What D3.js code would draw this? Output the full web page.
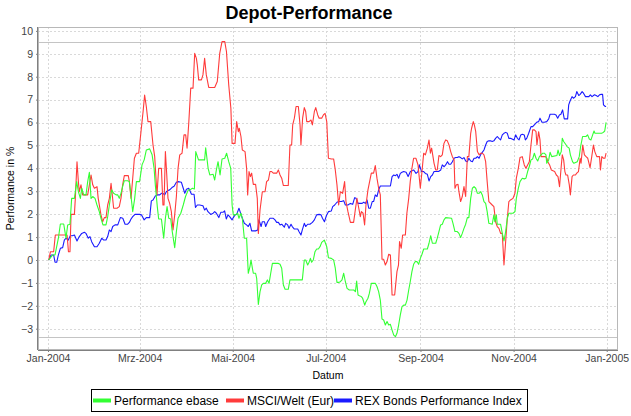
<!DOCTYPE html>
<html><head><meta charset="utf-8">
<script src="https://cdn.jsdelivr.net/npm/d3@7"></script>
<style>
html,body{margin:0;padding:0;background:#fff;}
svg{display:block;font-family:"Liberation Sans",Arial,sans-serif;}
</style></head>
<body>
<svg id="c" width="631" height="416"></svg>
<script>
// ---- DATA (day offset from 2004-01-01, performance in %) ----
const ebase = [[0.5,0],[3.1,0.22],[4.6,0.22],[6.8,0.95],[8.1,1.57],[10.3,1.57],[11.8,0.95],[12.9,1.53],[14.4,1.56],[15.5,2.69],[17.3,2.69],[18.8,3.42],[19.9,2.98],[21.2,2.69],[22.1,3.13],[23.4,2.84],[24.9,2.84],[26.0,3.42],[27.1,3.83],[28.2,2.69],[29.3,2.77],[30.8,2.69],[32.1,2.4],[33.6,2.11],[34.7,1.82],[36.0,1.53],[38.0,1.53],[39.1,1.89],[40.2,2.4],[41.7,3.06],[43.0,2.91],[44.6,2.84],[45.7,2.84],[46.7,2.69],[47.8,2.91],[48.9,3.2],[50.0,3.46],[52.2,3.46],[53.3,3.42],[54.4,2.77],[55.5,2.11],[56.8,2.69],
[57.9,3.42],[60.0,3.42],[61.6,4.15],[63.0,4.37],[64.4,4.8],[66.6,4.85],[68.2,4.59],[69.5,4.0],[70.3,3.28],[71.6,2.33],[72.5,1.79],[74.3,1.79],[75.8,0.95],[76.9,1.82],[78.0,2.33],[79.1,1.82],[80.4,1.79],[81.4,1.24],[83.0,0.54],[84.1,1.24],[85.2,1.82],[87.0,2.04],[88.6,2.4],[90.1,2.77],[91.9,3.06],[93.0,3.06],[94.6,3.13],[95.9,3.1],[96.8,4.73],[98.6,4.37],[100.8,4.37],[102.6,4.37],[103.3,4.9],[104.9,4.0],[106.0,3.71],[108.2,3.74],[109.2,3.49],[110.3,3.93],[111.4,4.29],[112.7,3.71],[114.0,4.41],[115.8,4.44],[117.0,4.66],[118.4,4.29],[119.7,4.0],[120.6,2.4],
[121.4,1.97],[122.9,1.97],[124.2,2.04],[125.1,1.82],[126.4,2.04],[127.3,1.82],[128.6,0.95],[130.1,0.95],[131.2,-0.58],[132.3,-0.29],[133.0,0],[133.9,-0.36],[134.5,-0.58],[136.0,-0.58],[136.7,-0.8],[137.8,-1.94],[138.9,-1.38],[140.0,-1.09],[141.1,-1.02],[142.6,-1.02],[143.7,-0.87],[144.8,-1.02],[145.9,-0.58],[147.0,-0.15],[148.7,-0.15],[150.9,-0.15],[152.0,-0.19],[153.1,-0.36],[154.2,-1.09],[155.3,-1.28],[157.4,-1.28],[158.5,-0.87],[166.6,-0.87],[167.9,0],[168.8,0],[170.1,-0.22],[171.0,-0.1],[171.9,0.07],[172.7,-0.1],[173.8,0],[174.9,0.36],[176.0,0.48],[177.1,0.48],[178.2,0.58],[179.3,0.77],[181.0,0.87],[182.6,0.58],[183.7,0.1],
[185.6,0.07],[187.1,0.0],[188.2,-0.36],[189.3,-0.98],[190.4,-0.98],[191.5,-0.95],[192.6,-0.87],[193.7,-0.58],[194.8,-0.95],[195.9,-1.24],[197.4,-1.31],[200.3,-1.31],[201.4,-1.38],[202.2,-0.92],[203.1,-1.53],[204.0,-1.56],[205.3,-1.6],[206.1,-1.67],[207.5,-1.97],[208.3,-1.82],[209.6,-1.67],[210.5,-1.46],[211.8,-1.02],[214.4,-1.02],[215.5,-1.16],[216.6,-1.38],[217.7,-1.75],[218.8,-2.58],[219.9,-2.62],[221.0,-2.84],[222.1,-2.69],[223.2,-2.84],[224.3,-2.81],[225.4,-3.06],[226.5,-3.28],[227.6,-3.35],[228.6,-3.2],[229.7,-2.84],[230.8,-2.4],[231.9,-2.04],[233.0,-1.97],[234.1,-1.97],[235.2,-1.75],[236.3,-1.31],[237.3,-0.95],[238.4,-0.51],[239.5,-0.19],[240.6,-0.07],[241.7,-0.07],[242.8,-0.19],[243.9,0.07],[245.0,0.25],[246.1,0.48],[247.2,0.48],
[248.5,0.48],[249.6,0.73],[250.7,1.06],[251.8,0.73],[254.0,0.73],[255.0,0.95],[256.1,1.24],[257.2,1.53],[258.3,1.56],[259.4,1.75],[260.5,1.85],[264.4,1.82],[265.3,1.6],[266.6,1.24],[268.1,1.24],[269.2,1.16],[270.3,0.98],[271.4,1.16],[272.5,1.38],[273.6,1.56],[274.7,1.85],[275.7,1.85],[276.9,2.69],[278.0,3.13],[279.1,3.2],[280.2,3.13],[281.3,2.91],[282.4,2.91],[283.5,2.98],[284.5,2.84],[285.6,2.55],[286.7,2.47],[287.7,2.11],[288.8,1.6],[291.0,1.56],[292.1,1.97],[292.7,1.67],[293.7,1.97],[294.3,1.56],[296.5,1.56],[297.6,1.16],[298.7,0.83],[299.8,1.24],[300.9,1.82],[301.9,2.04],[304.6,2.04],[305.9,2.11],[306.8,2.69],[308.1,3.13],[309.2,3.42],[310.7,3.57],
[312.0,3.54],[313.1,3.57],[314.2,3.86],[315.3,4.08],[316.4,4.37],[317.5,4.41],[318.6,4.66],[319.7,4.44],[320.8,4.32],[321.9,4.51],[324.1,4.66],[325.1,4.66],[326.2,4.59],[326.7,4.22],[328.0,4.37],[328.9,4.7],[330.0,4.51],[333.4,4.56],[334.1,4.8],[335.1,4.56],[336.2,4.73],[336.9,5.31],[337.8,5.17],[339.1,5.05],[340.0,4.95],[341.4,4.88],[342.2,4.59],[343.6,4.29],[344.5,4.22],[346.7,4.29],[348.0,4.51],[348.9,4.95],[350.2,5.39],[352.4,5.39],[353.5,5.46],[354.6,5.28],[355.7,5.24],[356.8,5.46],[357.7,5.63],[358.3,5.53],[362.7,5.53],[363.8,5.57],[364.7,5.63],[365.6,6.01]];

const msci = [[0.5,0],[1.6,0.36],[3.7,0.36],[4.8,1.09],[12.5,1.09],[13.4,0.36],[14.4,0.36],[15.1,1.99],[17.3,1.99],[17.9,2.69],[19.0,4.29],[19.9,3.42],[20.5,2.98],[21.6,3.28],[22.7,2.84],[26.0,2.84],[27.1,3.28],[28.2,3.71],[29.3,3.28],[30.4,3.13],[32.1,3.2],[32.9,2.69],[34.7,1.97],[35.8,1.67],[36.9,1.85],[38.0,1.85],[39.1,2.4],[40.2,2.69],[41.3,3.35],[41.9,2.98],[43.0,2.26],[45.2,2.26],[46.7,2.33],[47.8,2.69],[48.9,3.28],[50.0,3.68],[52.6,3.68],[53.3,3.42],[54.4,2.69],[55.5,3.57],[56.6,4.44],
[57.9,4.66],[59.4,4.66],[60.7,5.46],[62.3,6.48],[63.3,7.2],[64.4,6.7],[65.5,6.04],[67.3,6.04],[68.8,5.02],[69.9,4.51],[71.4,2.84],[72.5,4.0],[74.3,4.0],[75.3,2.4],[76.0,2.4],[76.9,4.73],[77.8,3.71],[78.6,2.69],[79.7,2.47],[80.8,2.11],[81.9,1.31],[83.0,1.97],[84.1,2.77],[85.2,4.0],[86.3,4.59],[87.8,4.66],[89.1,5.46],[90.2,5.46],[91.1,4.88],[92.2,5.97],[93.5,7.5],[95.0,7.5],[96.1,9.02],[97.2,8.8],[97.8,8.52],[98.7,7.86],[100.5,7.86],[101.5,8.08],[102.6,8.8],[103.7,8.08],[105.3,7.53],[109.2,7.53],[110.9,7.79],[112.5,9.02],[114.0,9.53],[115.8,9.53],[116.9,9.1],[118.4,7.64],[119.8,6.62],[120.6,5.09],
[122.5,5.09],[123.6,6.04],[124.7,5.6],[125.3,5.75],[126.4,5.39],[127.3,4.8],[129.1,4.73],[130.1,4.0],[130.8,2.84],[131.7,3.86],[132.6,3.64],[133.4,3.79],[134.5,3.3],[136.0,3.3],[137.1,2.69],[137.8,1.16],[138.9,2.18],[140.4,2.98],[142.2,2.98],[143.2,3.42],[144.4,3.49],[145.4,3.86],[146.5,3.86],[147.6,3.79],[149.8,3.79],[150.9,3.93],[152.0,3.71],[153.1,3.57],[154.2,3.25],[157.4,3.25],[158.5,5.02],[159.6,5.02],[160.3,5.9],[161.4,6.19],[162.5,6.7],[164.0,6.7],[165.1,5.9],[165.7,5.02],[166.8,6.19],[167.9,6.65],[168.8,6.48],[169.5,6.04],[171.0,6.04],[172.3,6.11],[173.2,5.9],[174.5,6.48],[175.4,6.65],[176.7,6.33],[177.6,6.19],[179.3,6.19],[180.4,6.33],[181.5,6.4],[182.6,6.04],[183.7,4.44],
[185.6,4.41],[187.1,4.41],[188.2,3.93],[189.3,3.28],[190.4,2.4],[191.5,2.98],[193.0,2.91],[194.3,3.42],[195.2,2.55],[196.5,2.11],[198.1,1.64],[200.2,1.64],[201.3,2.18],[202.4,2.69],[203.5,2.29],[204.6,1.89],[205.3,2.11],[206.4,2.04],[207.4,1.53],[208.3,2.4],[209.6,3.06],[211.8,3.79],[213.3,3.79],[214.4,4.12],[215.5,3.57],[216.6,3.13],[217.7,2.84],[218.8,0.03],[219.9,0.03],[221.0,-0.22],[222.1,-0.07],[223.2,0.25],[224.3,0.22],[225.4,-1.53],[227.1,-1.53],[228.6,-0.51],[229.6,-0.22],[230.3,0.8],[231.4,0.51],[232.3,1.09],[234.1,1.09],[235.1,2.04],[236.3,2.69],[237.3,3.42],[238.4,4.0],[239.5,4.44],[241.0,4.44],[242.4,4.15],[243.9,3.13],[245.0,3.86],[246.1,4.66],[247.2,4.59],
[248.5,4.88],[249.6,5.24],[250.5,4.66],[251.3,4.88],[252.2,4.51],[252.9,4.22],[254.0,3.93],[255.0,3.93],[256.1,4.56],[257.2,4.51],[258.3,4.59],[259.4,5.09],[260.5,5.24],[261.6,5.2],[262.7,5.02],[263.8,4.73],[264.9,4.51],[266.0,4.37],[266.6,3.13],[267.5,3.28],[268.6,3.3],[269.2,2.98],[270.3,2.55],[271.4,2.77],[272.5,3.2],[273.6,2.77],[274.7,4.51],[275.7,4.51],[276.9,5.53],[277.5,5.75],[278.6,6.04],[279.3,5.9],[280.2,5.6],[281.3,4.73],[282.4,4.59],[283.5,4.66],[284.5,4.66],[285.6,4.59],[286.7,4.29],[287.7,3.42],[288.8,2.55],[291.0,2.4],[292.1,2.33],[293.2,1.67],[294.3,1.46],[295.4,1.38],[296.5,1.16],[297.6,1.16],[298.7,-0.22],[299.8,0.8],[300.9,1.82],[301.9,2.55],[303.0,2.62],[304.6,2.69],[305.9,2.91],[306.8,3.57],[308.1,4.0],[309.2,4.47],[310.7,4.51],
[312.0,4.15],[313.1,4.0],[314.2,4.15],[315.3,4.29],[316.4,5.02],[317.5,5.68],[318.6,5.68],[319.7,5.6],[320.3,5.02],[321.4,5.6],[322.3,5.24],[323.0,4.51],[325.9,4.51],[326.8,4.44],[327.4,4.29],[328.6,4.15],[329.7,3.93],[331.9,3.86],[333.0,3.71],[334.1,3.64],[335.1,3.2],[336.2,4.08],[336.9,4.59],[337.8,4.37],[338.6,3.86],[339.3,3.71],[340.4,3.71],[341.5,3.28],[342.2,2.84],[343.3,3.64],[344.2,3.71],[345.5,3.71],[346.4,3.79],[347.5,3.86],[348.6,4.44],[349.2,4.22],[350.3,5.02],[351.4,4.59],[352.5,4.51],[353.6,4.44],[355.1,4.03],[356.2,4.51],[357.3,5.02],[358.2,4.73],[359.5,4.51],[361.3,4.51],[361.9,3.93],[362.8,4.51],[363.9,4.44],[364.8,4.44],[365.6,4.66]];

const rex = [[0.5,0],[2.0,0.22],[3.7,0.22],[4.6,-0.1],[5.7,-0.1],[6.8,0.22],[8.1,0.51],[9.6,0.54],[10.7,0.87],[11.8,0.95],[13.3,0.87],[14.6,1.06],[15.9,1.06],[17.3,1.09],[19.0,0.83],[20.5,1.02],[22.1,1.16],[23.8,1.21],[24.9,1.16],[26.4,0.95],[27.5,1.02],[28.6,0.8],[30.4,0.58],[32.1,0.58],[33.6,0.73],[35.2,0.95],[36.5,0.87],[38.0,0.87],[39.1,1.02],[40.2,1.31],[41.3,1.24],[42.4,1.46],[43.9,1.53],[45.7,1.53],[47.4,1.85],[49.0,1.82],[50.5,1.56],[52.2,1.56],[53.3,1.64],[54.4,1.79],[55.5,1.89],[57.0,1.99],
[58.5,1.99],[60.0,1.99],[61.2,1.97],[63.0,1.75],[64.4,1.85],[66.6,1.85],[67.7,2.58],[68.8,2.62],[70.3,2.79],[71.6,2.84],[73.2,2.84],[74.3,2.91],[75.3,2.91],[76.4,2.84],[77.5,2.98],[78.6,3.03],[79.7,3.06],[81.2,3.16],[82.6,3.22],[84.1,3.39],[85.2,3.42],[87.4,3.39],[88.6,3.13],[89.6,2.91],[90.7,3.09],[92.2,3.13],[94.0,2.87],[95.7,2.87],[96.6,2.29],[97.8,2.4],[99.4,2.4],[101.5,2.37],[102.6,2.18],[103.7,2.26],[104.8,2.11],[106.6,1.99],[108.2,2.04],[109.2,2.11],[110.3,2.04],[111.9,1.85],[113.2,2.08],[114.6,2.08],[115.7,2.14],[116.8,1.79],[117.9,1.97],[119.0,1.89],[120.6,1.75],
[121.4,1.85],[122.5,1.97],[123.6,1.99],[125.1,2.26],[126.4,1.99],[127.3,1.82],[128.6,1.6],[130.1,1.53],[131.2,1.46],[132.3,1.6],[133.4,1.27],[136.0,1.27],[137.4,1.31],[138.2,1.75],[139.6,1.46],[140.4,1.67],[141.8,1.67],[142.6,1.46],[143.9,1.67],[145.4,1.82],[147.6,1.82],[148.7,1.75],[149.8,1.64],[150.9,1.64],[152.0,1.53],[153.1,1.56],[154.8,1.43],[155.7,1.6],[157.0,1.53],[157.9,1.38],[159.2,1.56],[160.0,1.46],[161.4,1.35],[163.6,1.35],[164.4,1.24],[165.7,1.09],[166.6,1.31],[167.9,1.6],[168.8,1.46],[170.1,1.56],[171.6,1.56],[173.2,1.64],[174.5,1.75],[176.0,1.97],[177.6,1.99],[178.9,1.97],[179.8,1.82],[181.1,1.67],[182.4,1.94],[183.7,2.11],
[185.6,2.14],[186.5,2.33],[187.8,2.4],[189.3,2.52],[190.4,2.55],[192.2,2.55],[193.7,2.59],[194.8,2.4],[196.5,2.4],[198.1,2.47],[199.6,2.43],[200.9,2.72],[201.8,2.69],[203.1,2.47],[205.8,2.47],[206.8,2.52],[207.9,2.47],[209.0,2.62],[210.1,2.26],[211.2,2.26],[212.4,2.55],[213.3,2.55],[214.4,2.84],[215.5,2.77],[216.6,3.06],[217.7,3.23],[224.3,3.23],[225.4,3.64],[226.5,3.71],[227.6,3.68],[228.6,3.74],[229.7,3.57],[230.8,3.78],[231.9,3.83],[233.0,3.86],[234.6,3.83],[235.9,3.64],[237.4,3.86],[238.5,3.89],[239.6,3.93],[241.1,3.78],[242.4,3.86],[243.3,4.15],[244.7,3.86],[246.1,3.86],[247.2,3.78],
[248.5,3.74],[249.6,3.45],[250.7,3.64],[251.8,3.71],[252.9,3.86],[255.8,3.86],[257.3,3.93],[258.3,4.15],[259.5,4.07],[260.5,4.15],[261.7,4.29],[262.7,4.18],[263.8,4.18],[264.9,4.29],[266.0,4.44],[267.1,4.47],[268.1,4.47],[269.2,4.51],[270.3,4.47],[271.4,4.41],[272.5,4.47],[273.6,4.32],[274.7,4.29],[275.7,4.44],[276.9,4.32],[278.0,4.29],[279.1,4.44],[280.2,4.44],[281.3,4.51],[282.4,4.44],[283.5,4.61],[284.5,4.7],[285.6,4.8],[286.7,5.02],[287.7,5.17],[288.8,5.2],[289.9,5.2],[291.0,5.17],[292.1,5.2],[293.2,5.31],[294.3,5.39],[295.4,5.31],[296.5,5.24],[297.6,5.46],[298.7,5.53],[299.8,5.57],[300.9,5.53],[301.9,5.31],[303.0,5.31],[305.3,5.24],[306.4,5.46],[307.5,5.31],[308.6,5.24],[309.7,5.46],[310.7,5.49],
[312.0,5.46],[312.7,5.24],[313.6,5.31],[314.9,5.53],[316.4,5.82],[317.5,5.82],[318.6,5.9],[320.1,6.01],[321.4,6.04],[322.3,6.19],[323.6,6.01],[325.1,6.01],[326.7,6.04],[328.0,6.16],[328.9,6.36],[331.7,6.36],[332.8,6.33],[333.9,6.19],[335.0,6.33],[336.0,6.36],[337.1,6.55],[338.2,6.16],[340.4,6.16],[341.1,6.77],[342.0,6.94],[343.3,7.13],[344.2,7.06],[345.5,7.13],[346.4,7.35],[347.7,7.18],[348.6,7.23],[349.9,7.35],[350.8,7.28],[352.1,7.13],[354.3,7.13],[355.3,7.21],[356.4,7.13],[358.0,7.21],[359.1,7.18],[360.2,7.13],[361.3,7.21],[362.4,7.23],[363.3,7.23],[363.9,6.77],[365.1,6.7],[365.6,6.7]];

const seriesNames = ["Performance ebase", "MSCI/Welt (Eur)", "REX Bonds Performance Index"];
const seriesColors = ["#33ff33", "#ff3b3b", "#1a1aff"];
const xTickDates = ["2004-01-01","2004-03-01","2004-05-01","2004-07-01","2004-09-01","2004-11-01","2005-01-01"];
const xTickLabels = ["Jan-2004","Mrz-2004","Mai-2004","Jul-2004","Sep-2004","Nov-2004","Jan-2005"];
const yTicks = [-3,-2,-1,0,1,2,3,4,5,6,7,8,9,10];
const markerValues = [9.53, -3.35]; // range markers (max / min)

// ---- CHART ----
const svg = d3.select("#c");
const L = 38, R = 618, T = 27, B = 350;
const t0 = Date.UTC(2004,0,1), DAY = 864e5;
const toDate = d => new Date(t0 + d*DAY);
const x = d3.scaleUtc().domain([toDate(-6.55), toDate(373.4)]).range([L, R]);
const y = d3.scaleLinear().domain([-3.93, 10.17]).range([B, T]);

svg.append("rect").attr("width",631).attr("height",416).attr("fill","#fff");
svg.append("rect").attr("x",L).attr("y",T).attr("width",R-L).attr("height",B-T).attr("fill","#fff");

// gridlines
const grid = svg.append("g").attr("stroke","#d9d9d9").attr("stroke-width",1).attr("stroke-dasharray","2,2").attr("shape-rendering","crispEdges");
grid.selectAll("line.h").data(yTicks).join("line")
  .attr("x1",L).attr("x2",R).attr("y1",d=>Math.round(y(d))+0.5).attr("y2",d=>Math.round(y(d))+0.5);
grid.selectAll("line.v").data(xTickDates).join("line")
  .attr("y1",T).attr("y2",B).attr("x1",d=>Math.round(x(new Date(d+"T00:00:00Z")))+0.5).attr("x2",d=>Math.round(x(new Date(d+"T00:00:00Z")))+0.5);

// range marker lines
svg.append("g").selectAll("line").data(markerValues).join("line")
  .attr("x1",L).attr("x2",R).attr("y1",d=>Math.round(y(d))+0.5).attr("y2",d=>Math.round(y(d))+0.5)
  .attr("stroke","#c4c4c4").attr("stroke-width",1).attr("shape-rendering","crispEdges");

// plot outline
svg.append("rect").attr("x",L+0.5).attr("y",T+0.5).attr("width",R-L-1).attr("height",B-T-1)
  .attr("fill","none").attr("stroke","#b8b8b8").attr("stroke-width",1).attr("shape-rendering","crispEdges");

// lines
const line = d3.line().x(d=>x(toDate(d[0]))).y(d=>y(d[1]));
const seriesData = [ebase, msci, rex];
[2,1,0].forEach(i=>{
  svg.append("path").datum(seriesData[i]).attr("d",line)
    .attr("fill","none").attr("stroke",seriesColors[i]).attr("stroke-width",1.1).attr("stroke-linejoin","round");
});

// axes
const yAxis = d3.axisLeft(y).tickValues(yTicks).tickSize(2).tickPadding(3).tickFormat(d3.format("d"));
const gy = svg.append("g").attr("transform",`translate(${L},0)`).call(yAxis);
const xAxis = d3.axisBottom(x).tickValues(xTickDates.map(d=>new Date(d+"T00:00:00Z")))
  .tickSize(2).tickPadding(3).tickFormat((d,i)=>xTickLabels[i]);
const gx = svg.append("g").attr("transform",`translate(0,${B})`).call(xAxis);
[gx,gy].forEach(g=>{
  g.select(".domain").attr("stroke","#808080").attr("shape-rendering","crispEdges");
  g.selectAll(".tick line").attr("stroke","#808080");
  g.selectAll("text").attr("fill","#444").style("font-size","10.5px").style("font-family",'"Liberation Sans",Arial,sans-serif');
});
gx.select(".domain").attr("d",`M${L},0.5H${R}`);
gy.select(".domain").attr("d",`M-0.5,${T}V${B}`);

// title
svg.append("text").attr("x",309).attr("y",19).attr("text-anchor","middle")
  .style("font-size","18px").style("font-weight","bold").attr("fill","#000").text("Depot-Performance");

// axis labels
svg.append("text").attr("transform",`translate(10,${(T+B)/2}) rotate(-90)`).attr("text-anchor","middle")
  .attr("dy","0.35em").style("font-size","10.5px").attr("fill","#000").text("Performance in %");
svg.append("text").attr("x",(L+R)/2).attr("y",379).attr("text-anchor","middle")
  .style("font-size","10.5px").attr("fill","#000").text("Datum");

// legend
svg.append("rect").attr("x",91.5).attr("y",389.5).attr("width",436).attr("height",22)
  .attr("fill","#fff").attr("stroke","#000").attr("stroke-width",1);
const legX = [93, 226, 334];
const lg = svg.append("g").selectAll("g").data(seriesNames).join("g")
  .attr("transform",(d,i)=>`translate(${legX[i]},0)`);
lg.append("line").attr("x1",0).attr("x2",18).attr("y1",400.5).attr("y2",400.5)
  .attr("stroke",(d,i)=>seriesColors[i]).attr("stroke-width",4);
lg.append("text").attr("x",21).attr("y",405).style("font-size","12px").attr("fill","#000").text(d=>d);
</script>
</body></html>
